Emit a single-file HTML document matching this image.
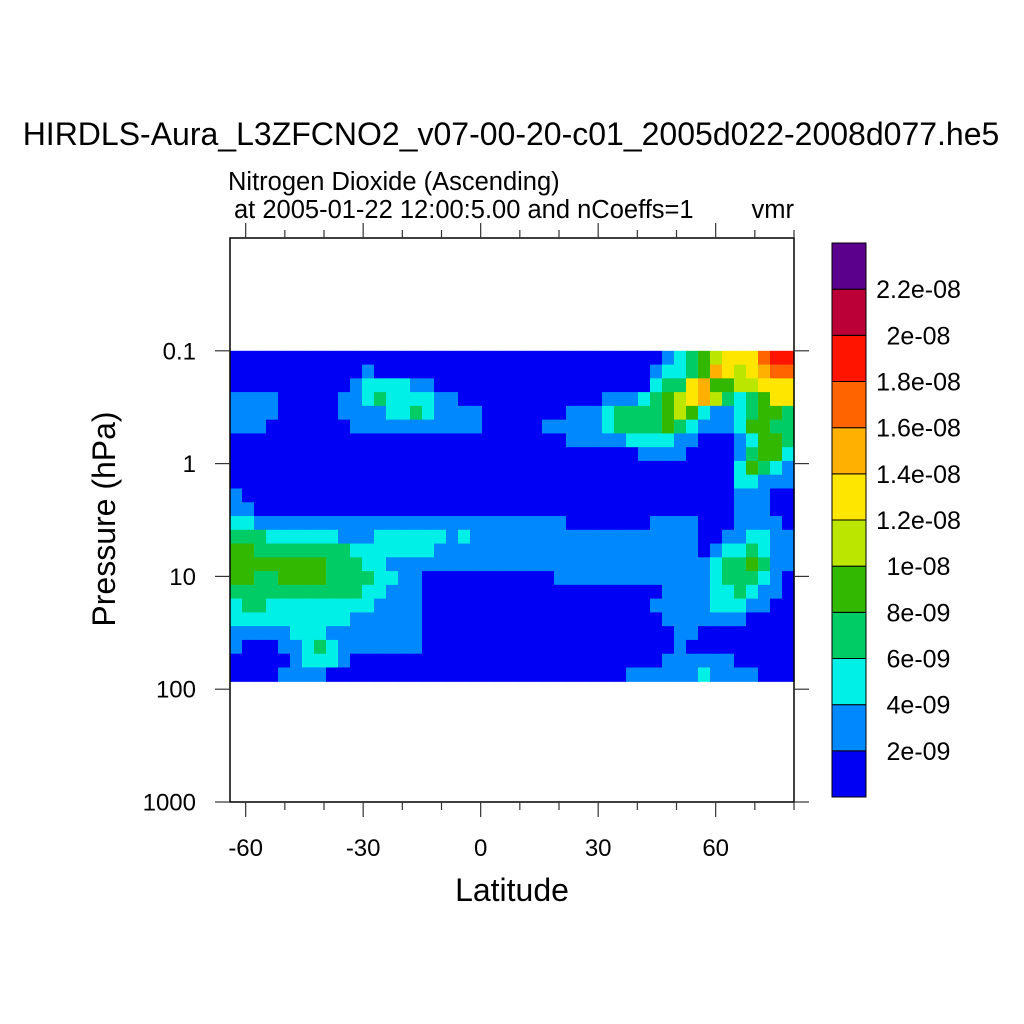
<!DOCTYPE html>
<html><head><meta charset="utf-8">
<style>
html,body{margin:0;padding:0;background:#fff;}
svg{display:block;font-family:"Liberation Sans",sans-serif;}
</style></head>
<body>
<svg id="chart" width="1024" height="1024" viewBox="0 0 1024 1024" xmlns="http://www.w3.org/2000/svg">
<rect x="0" y="0" width="1024" height="1024" fill="#fff"/>
<text x="511" y="145" font-size="32" text-anchor="middle">HIRDLS-Aura_L3ZFCNO2_v07-00-20-c01_2005d022-2008d077.he5</text>
<text x="228" y="190" font-size="25.5">Nitrogen Dioxide (Ascending)</text>
<text x="234" y="218" font-size="25.5">at 2005-01-22 12:00:5.00 and nCoeffs=1</text>
<text x="794" y="218" font-size="25.5" text-anchor="end">vmr</text>
<g id="heat"></g>
<g id="axes"></g>
<g id="cbar"></g>
<text x="512" y="901" font-size="32" text-anchor="middle">Latitude</text>
<text x="0" y="0" font-size="32" text-anchor="middle" transform="translate(115,519) rotate(-90)">Pressure (hPa)</text>
</svg>
<script>
// ---- data ----
const latMin = -64, latMax = 80;
const pTop = 0.1, pBottom = 85;           // pressure extent of data (hPa)
const xTicks = [-60, -30, 0, 30, 60];
const xMinor = [-60,-50,-40,-30,-20,-10,0,10,20,30,40,50,60,70,80];
const yTicks = [0.1, 1, 10, 100, 1000];
const yTickLabels = ["0.1", "1", "10", "100", "1000"];
const levelColors = ["#0000f5","#0088ff","#00f0e8","#00cc66","#33b800","#bbe600","#ffe600","#ffb000","#ff6400","#ff1400","#bb0038","#5a008c"];
const cbarLabels = ["2e-09","4e-09","6e-09","8e-09","1e-08","1.2e-08","1.4e-08","1.6e-08","1.8e-08","2e-08","2.2e-08"];
// grid of contour levels (rows: top pressure to bottom; cols: latitude -64..80)
const gridRows = [
"000000000000000000000000000000000000"+"12345666899",
"000000000001"+"00000000000000000000000"+"122347656788",
"0000000000"+"1222211"+"000000000000000000"+"233674455666",
"1111"+"00000"+"1123222211"+"000000000000"+"1112345675323466",
"1111"+"00000"+"111122321111"+"0000000"+"1112333345421123443",
"111"+"0000000"+"11111111111"+"00000"+"111112333343211124433",
"0000000000000000000000000000"+"1111122221100012443",
"0000000000000000000000000000000000"+"1111000013442",
"000000000000000000000000000000000000000000"+"24321",
"000000000000000000000000000000000000000000"+"22111",
"1"+"00000000000000000000000000000000000000000"+"11100",
"11"+"0000000000000000000000000000000000000000"+"11100",
"22"+"11111111111111111111111111"+"0000000"+"1111"+"000"+"1111"+"0",
"33322222211122222212"+"1111111111111111111"+"00112211",
"44"+"33333333"+"2222222"+"1111111111111111111111"+"01223211",
"44444444"+"33322"+"11111111111111111111111111"+"12334311",
"44334444"+"3333"+"22"+"11"+"00000000000"+"1111111111111"+"2333210",
"33333333333"+"22111"+"00000000000000000000"+"11112232110",
"233"+"222222222"+"1111"+"0000000000000000000"+"11111"+"2221100",
"2222222222"+"111111"+"00000000000000000000"+"1111111"+"0000",
"11111"+"222"+"11111111"+"000000000000000000000"+"11"+"00000000",
"1000"+"11232"+"1111111"+"000000000000000000000"+"1"+"000000000",
"00000"+"12221"+"00000000000000000000000000"+"111111"+"00000",
"0000"+"1111"+"0000000000000000000000000"+"111111"+"2"+"1111"+"000"
];
// ---- drawing ----
const NS = "http://www.w3.org/2000/svg";
const PL = 230, PR = 794, PT = 238, PB = 802;
const xScale = lat => PL + (lat - latMin) / (latMax - latMin) * (PR - PL);
const yScale = p => PT + (Math.log10(p) - Math.log10(0.01)) / 5 * (PB - PT);
function mk(tag, attrs, parent){ const e=document.createElementNS(NS,tag); for(const k in attrs) e.setAttribute(k,attrs[k]); parent.appendChild(e); return e; }
const heat = document.getElementById('heat');
const nCols = 47, nRows = gridRows.length;
const lt = Math.log10(pTop), lb = Math.log10(pBottom);
for (let j = 0; j < nRows; j++) {
  const row = gridRows[j].padEnd(nCols,'0').slice(0,nCols);
  const y0 = yScale(Math.pow(10, lt + (lb-lt)*j/nRows));
  const y1 = yScale(Math.pow(10, lt + (lb-lt)*(j+1)/nRows));
  for (let i = 0; i < nCols; i++) {
    const v = parseInt(row[i], 16);
    const x0 = xScale(latMin + (latMax-latMin)*i/nCols);
    const x1 = xScale(latMin + (latMax-latMin)*(i+1)/nCols);
    const r = mk('rect', {x:x0.toFixed(2), y:y0.toFixed(2), width:(x1-x0+0.6).toFixed(2), height:(y1-y0+0.6).toFixed(2), fill:levelColors[v]}, heat);
    
    
  }
}
const axes = document.getElementById('axes');
const frame = mk('rect', {x:PL, y:PT, width:PR-PL, height:PB-PT, fill:'none', stroke:'#000', 'stroke-width':1.5}, axes);


xMinor.forEach(v => {
  const x = xScale(v);
  const major = xTicks.includes(v);
  const len = major ? 15 : 8;
  mk('line', {x1:x, y1:PB, x2:x, y2:PB+len, stroke:'#333', 'stroke-width':1.2}, axes);
  mk('line', {x1:x, y1:PT, x2:x, y2:PT-len, stroke:'#333', 'stroke-width':1.2}, axes);
});
xTicks.forEach(v => {
  const t = mk('text', {x:xScale(v), y:856, 'font-size':24, 'text-anchor':'middle'}, axes);
  t.textContent = String(v);
  
  
});
yTicks.forEach((p, k) => {
  const y = yScale(p);
  mk('line', {x1:PL-15, y1:y, x2:PL, y2:y, stroke:'#333', 'stroke-width':1.2}, axes);
  mk('line', {x1:PR, y1:y, x2:PR+15, y2:y, stroke:'#333', 'stroke-width':1.2}, axes);
  const t = mk('text', {x:196, y:y+8.5, 'font-size':24, 'text-anchor':'end'}, axes);
  t.textContent = yTickLabels[k];
  
  
});
// colorbar
const cbar = document.getElementById('cbar');
const CX = 832, CW = 34, CT = 243, CB = 797;
const boxH = (CB - CT) / levelColors.length;
levelColors.forEach((c, k) => {
  const y = CB - (k+1)*boxH;
  const r = mk('rect', {x:CX, y:y.toFixed(2), width:CW, height:boxH.toFixed(2), fill:c, stroke:'#000', 'stroke-width':1}, cbar);
  
  
});
cbarLabels.forEach((s, k) => {
  const y = CB - (k+1)*boxH;
  const t = mk('text', {x:918.5, y:(y+9).toFixed(2), 'font-size':25, 'text-anchor':'middle'}, cbar);
  t.textContent = s;
  
  
});
</script>
</body></html>
